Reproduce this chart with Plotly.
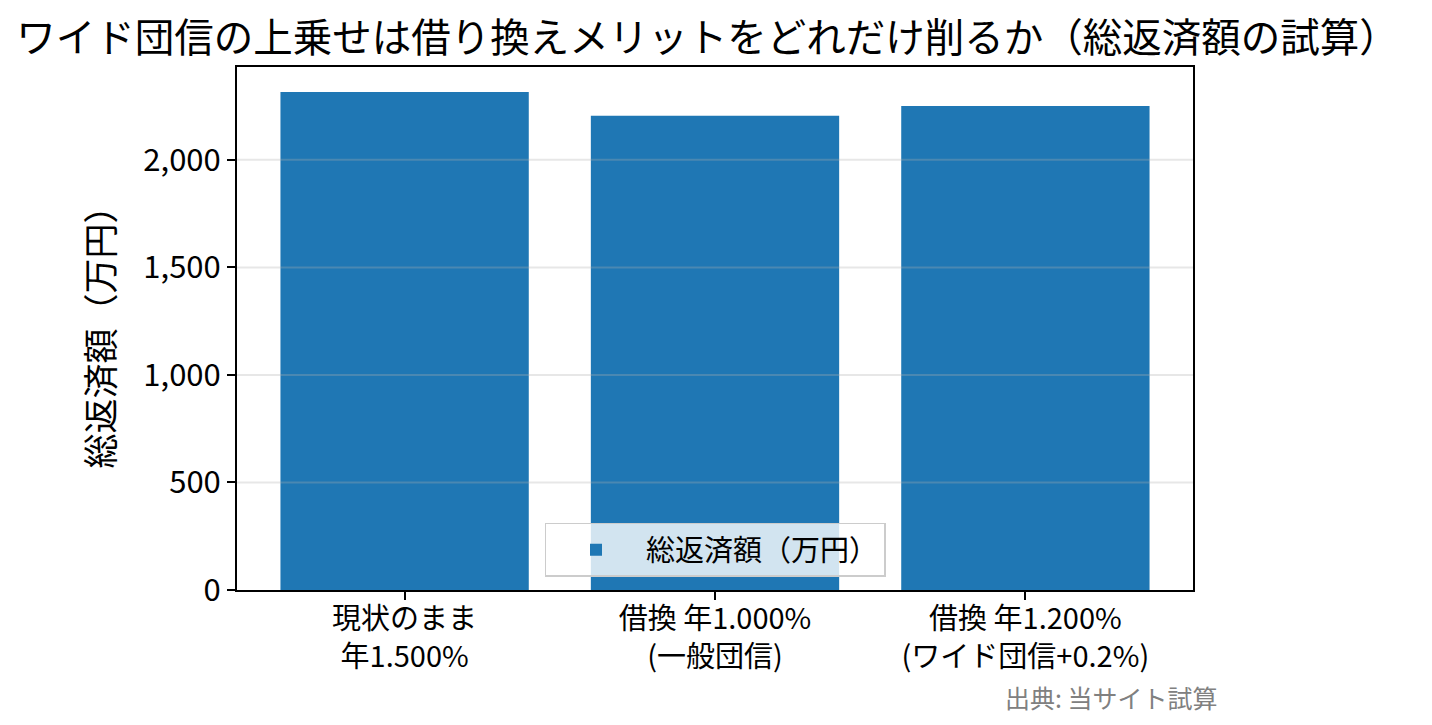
import plotly.graph_objects as go

categories = ["現状のまま<br>年1.500%", "借換 年1.000%<br>(一般団信)", "借換 年1.200%<br>(ワイド団信+0.2%)"]
values = [2316, 2205, 2251]
series_name = "総返済額（万円）"
y_ticks = [0, 500, 1000, 1500, 2000]
y_tick_labels = ["0", "500", "1,000", "1,500", "2,000"]
title_text = "ワイド団信の上乗せは借り換えメリットをどれだけ削るか（総返済額の試算）"
source_text = "出典: 当サイト試算"

FONT = "Noto Sans CJK JP"

fig = go.Figure()
fig.add_trace(go.Bar(
    x=[0, 1, 2], y=values, name=series_name, width=0.8,
    marker=dict(color="#1f77b4", line=dict(width=0)),
    showlegend=True,
))

# gridlines drawn above bars (as in reference)
for t in y_ticks[1:]:
    fig.add_shape(type="line", xref="paper", x0=0, x1=1, yref="y", y0=t, y1=t,
                  line=dict(color="rgba(176,176,176,0.3)", width=2), layer="above")

ymax = max(values) * 1.05
fig.update_layout(
    width=1432, height=725,
    margin=dict(l=237, r=239, t=67, b=135),
    paper_bgcolor="white", plot_bgcolor="white",
    font=dict(family=FONT, color="black"),
    title=dict(text=title_text, x=0.494, xanchor="center", y=0.947, yanchor="middle",
               font=dict(size=39.5, family=FONT, color="black")),
    bargap=0.2,
    legend=dict(x=0.5, xanchor="center", y=0.025, yanchor="bottom",
                bgcolor="rgba(255,255,255,0.8)", bordercolor="#cccccc", borderwidth=1.5,
                font=dict(size=29, family=FONT), itemwidth=90,
                ),
    xaxis=dict(
        range=[-0.54, 2.54], tickmode="array", tickvals=[0, 1, 2], ticktext=categories,
        showline=True, mirror=True, linecolor="black", linewidth=2,
        ticks="outside", ticklen=8, tickwidth=2, tickcolor="black",
        showgrid=False, zeroline=False, ticklabelstandoff=-6,
        tickfont=dict(size=29, family=FONT, color="black"),
    ),
    yaxis=dict(
        range=[0, ymax], tickmode="array", tickvals=y_ticks, ticktext=y_tick_labels,
        showline=True, mirror=True, linecolor="black", linewidth=2,
        ticks="outside", ticklen=8, tickwidth=2, tickcolor="black",
        showgrid=False, zeroline=False,
        tickfont=dict(size=31, family=FONT, color="black"),
        title=dict(text=series_name, font=dict(size=35, family=FONT, color="black"), standoff=18),
    ),
    annotations=[dict(text=source_text, xref="paper", yref="paper", x=1.028, y=-0.205,
                      xanchor="right", yanchor="middle", showarrow=False,
                      font=dict(size=25, family=FONT, color="#808080"))],
)

fig.write_html("out.html")
